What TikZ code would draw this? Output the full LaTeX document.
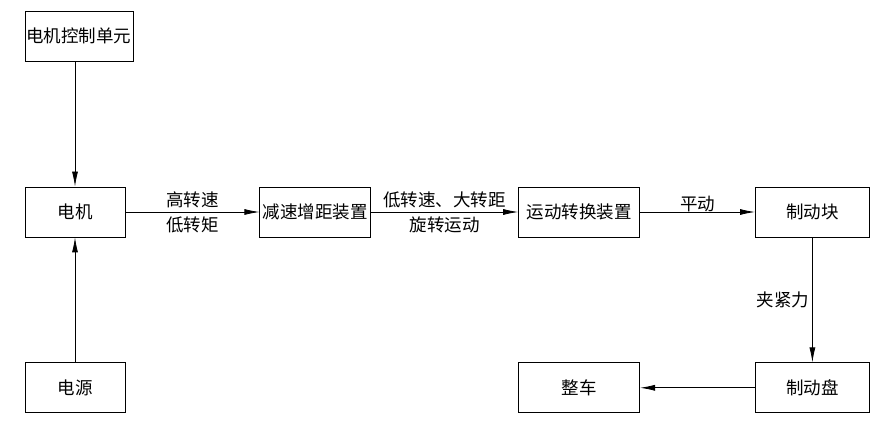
\documentclass[tikz,border=0pt]{standalone}
\usepackage{fontspec}
\setmainfont{Noto Sans CJK SC}
\usetikzlibrary{arrows.meta,positioning}

\begin{document}
\begin{tikzpicture}[x=1pt,y=1pt,
    every node/.style={font=\fontsize{17.5pt}{25pt}\selectfont,inner sep=1pt},
    box/.style={draw,line width=0.8pt,minimum height=50pt,align=center},
    lbl/.style={align=center,inner sep=0pt},
    arr/.style={-{Latex[length=15pt,width=6pt]},line width=0.8pt}]
    \useasboundingbox (0,0) rectangle (892,436);
    \node[box,minimum width=100pt] (motor) at (75,224) {电机};
    \node[box,minimum width=108pt,above=125pt of motor.north west,anchor=south west] (ctrl) {电机控制单元};
    \node[box,minimum width=100pt,below=125pt of motor] (power) {电源};
    \node[box,minimum width=111pt,right=134pt of motor] (reducer) {减速增距装置};
    \node[box,minimum width=121pt,right=147pt of reducer] (converter) {运动转换装置};
    \node[box,minimum width=114pt,right=115pt of converter] (pad) {制动块};
    \node[box,minimum width=114pt,below=125pt of pad] (disc) {制动盘};
    \node[box,minimum width=121pt,left=115pt of disc] (vehicle) {整车};
    \draw[arr] (ctrl.south -| motor.north)--(motor.north);
    \draw[arr] (power)--(motor);
    \draw[arr] (motor)--node[lbl]{高转速\\低转矩} (reducer);
    \draw[arr] (reducer)--node[lbl]{低转速、大转距\\旋转运动} (converter);
    \draw[arr] (converter)--node[lbl,above]{平动} (pad);
    \draw[arr] (pad)--node[lbl,left=3pt]{夹紧力} (disc);
    \draw[arr] (disc)--(vehicle);
  \end{tikzpicture}
\end{document}
